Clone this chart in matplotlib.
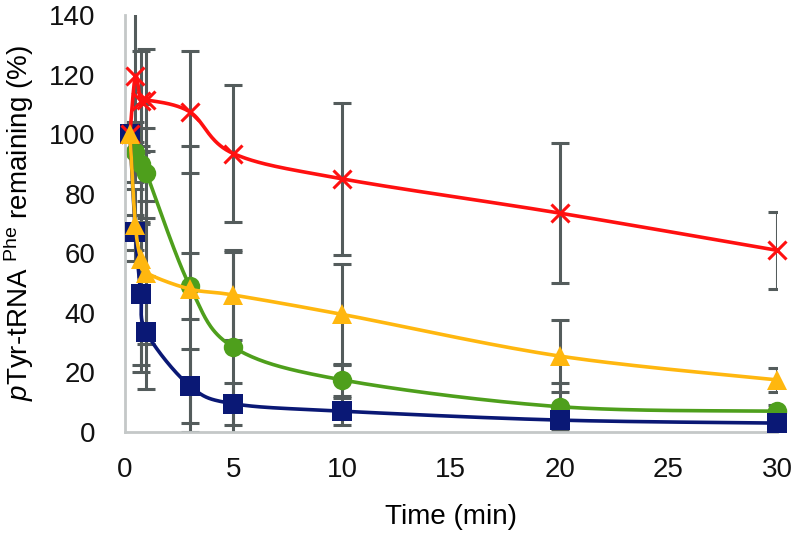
import numpy as np
import matplotlib
matplotlib.use("Agg")
import matplotlib.pyplot as plt

plt.rcParams['font.family'] = ['Liberation Sans', 'DejaVu Sans']
plt.rcParams['mathtext.fontset'] = 'custom'
plt.rcParams['mathtext.rm'] = 'Liberation Sans'
plt.rcParams['mathtext.it'] = 'Liberation Sans:italic'

# time points (min)
t = [0.25, 0.5, 0.75, 1, 3, 5, 10, 20, 30]

# series values and error bars (%)
red = [100, 119.5, 111, 111.5, 107.5, 93.5, 85, 73.5, 61]
red_err = [2, 22, 17, 17, 20.5, 23, 25.5, 23.5, 13]
green = [100, 94, 90, 87, 49, 28.5, 17.5, 8.5, 7]
green_err = [2, 10, 20, 15, 11, 32, 5.5, 8, 2]
yellow = [100, 69.5, 58, 53.5, 48, 46, 39.5, 25.5, 17.5]
yellow_err = [2, 12, 38, 24, 48, 15, 17, 12, 4]
blue = [100, 67, 46.5, 33.5, 15.5, 9.5, 7, 4, 3]
blue_err = [2, 6, 24, 19, 12.5, 7, 4.5, 1.5, 1]

xmax, ymax = 30, 140


def smooth(x, y, n=40):
    # Catmull-Rom style bezier, computed in normalised axes space like Excel
    px = np.asarray(x, float) / xmax * 1.55
    py = np.asarray(y, float) / ymax
    pts = np.column_stack([px, py])
    pts = np.vstack([pts[0], pts, pts[-1]])
    out = []
    for i in range(1, len(pts) - 2):
        p0, p1, p2, p3 = pts[i - 1], pts[i], pts[i + 1], pts[i + 2]
        c1 = p1 + (p2 - p0) / 6
        c2 = p2 - (p3 - p1) / 6
        s = np.linspace(0, 1, n)[:, None]
        seg = ((1 - s) ** 3) * p1 + 3 * ((1 - s) ** 2) * s * c1 + 3 * (1 - s) * s ** 2 * c2 + s ** 3 * p2
        out.append(seg)
    out = np.vstack(out)
    return out[:, 0] / 1.55 * xmax, out[:, 1] * ymax


fig = plt.figure(figsize=(7.93, 5.36), dpi=100)
ax = fig.add_axes([0.157, 0.194, 0.823, 0.778])

err_col = '#545c5c'
series = [
    (green, green_err, '#4e9f1c', 'o', 14, 2),
    (blue, blue_err, '#0a1875', 's', 14, 3),
    (red, red_err, '#ff1010', 'x', 13, 4),
    (yellow, yellow_err, '#ffb70f', '^', 15, 5),
]

for vals, errs, col, mk, ms, z in series:
    ax.errorbar(t, vals, yerr=errs, fmt='none', ecolor=err_col, elinewidth=2.2,
                capsize=6.5, capthick=2.2, zorder=1)
for vals, errs, col, mk, ms, z in series:
    sx, sy = smooth(t, vals)
    ax.plot(sx, sy, color=col, lw=2.6, zorder=z, solid_capstyle='round')
    if mk == 'x':
        ax.plot(t, vals, ls='none', marker=mk, ms=ms, mew=2.2, color=col,
                zorder=z + 0.5, clip_on=False)
    else:
        ax.plot(t, vals, ls='none', marker=mk, ms=ms, mew=0, color=col,
                zorder=z + 0.5, clip_on=False)

ax.set_xlim(0, xmax)
ax.set_ylim(0, ymax)
ax.set_xticks(range(0, 31, 5))
ax.set_yticks(range(0, 141, 20))
ax.tick_params(length=0, labelsize=20, colors='#111111')
ax.tick_params(axis='x', pad=18)
ax.tick_params(axis='y', pad=21)
for s in ['top', 'right']:
    ax.spines[s].set_visible(False)
for s in ['left', 'bottom']:
    ax.spines[s].set_color('#c4c8c8')
    ax.spines[s].set_linewidth(2)
ax.set_xlabel('Time (min)', fontsize=20, labelpad=15)
ax.set_ylabel(r'$\it{p}$Tyr-tRNA $^{\rm Phe}$ remaining (%)', fontsize=20, labelpad=9)

fig.savefig('out.png', dpi=100)
